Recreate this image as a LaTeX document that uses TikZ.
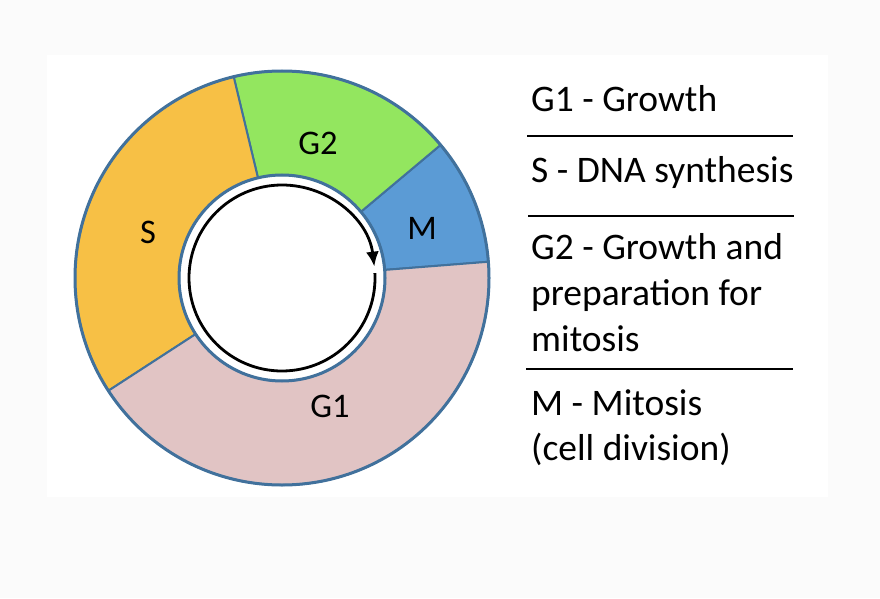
\documentclass[tikz,border=0pt]{standalone}
\usepackage{fontspec}
\setmainfont{Carlito}
\usetikzlibrary{arrows.meta}
\definecolor{ringblue}{HTML}{41719C}
\definecolor{phaseG1}{HTML}{E1C4C4}
\definecolor{phaseS}{HTML}{F7C045}
\definecolor{phaseG2}{HTML}{93E65F}
\definecolor{phaseM}{HTML}{5B9BD5}
\definecolor{pagegray}{HTML}{FBFBFB}
\tikzset{phase/.style = {draw=ringblue, line width=2pt, line join=round}}
\tikzset{ringlabel/.style = {font=\fontsize{34.5}{40}\selectfont, inner sep=0pt}}
\tikzset{keytext/.style = {font=\fontsize{37.5}{45}\selectfont, anchor=base west, inner sep=0pt}}
\tikzset{keyrule/.style = {line width=1.6pt}}

\begin{document}
\begin{tikzpicture}[x=1pt, y=1pt]
      \fill [pagegray] (0, 0) rectangle (880, 598);
      \fill [white] (47, 101) rectangle (828, 543);
      \useasboundingbox (0, 0) rectangle (880, 598);

      \begin{scope}[shift={(282, 320)}]
        \filldraw [phase, fill=phaseM] (4.5:103) -- (4.5:207) arc [start angle=4.5, end angle=40, radius=207]
          -- (40:103) arc [start angle=40, end angle=4.5, radius=103] -- cycle;
        \filldraw [phase, fill=phaseG2] (40:103) -- (40:207) arc [start angle=40, end angle=103.5, radius=207]
          -- (103.5:103) arc [start angle=103.5, end angle=40, radius=103] -- cycle;
        \filldraw [phase, fill=phaseS] (103.5:103) -- (103.5:207) arc [start angle=103.5, end angle=213, radius=207]
          -- (213:103) arc [start angle=213, end angle=103.5, radius=103] -- cycle;
        \filldraw [phase, fill=phaseG1] (213:103) -- (213:207) arc [start angle=213, end angle=364.5, radius=207]
          -- (364.5:103) arc [start angle=364.5, end angle=213, radius=103] -- cycle;
        \draw [ringblue, line width=3pt] (0, 0) circle [radius=207];
        \draw [ringblue, line width=3pt] (0, 0) circle [radius=103];

        \coordinate (cyclestart) at (3:93);
        \draw [line width=2.8pt, -{Latex[length=15pt, width=13pt]}] (cyclestart)
          arc [start angle=3, end angle=-353, radius=93];

        \node [ringlabel] (labM) at (140, 50) {M};
        \node [ringlabel] (labG2) at (36, 135) {G2};
        \node [ringlabel] (labS) at (-134, 46) {S};
        \node [ringlabel] (labG1) at (48, -128) {G1};
      \end{scope}

      \node [keytext] (keyG1) at (531, 486) {G1 - Growth};
      \node [keytext] (keyS) at (531, 415) {S - DNA synthesis};
      \node [keytext] (keyG2a) at (531, 339) {G2 - Growth and};
      \node [keytext] (keyG2b) at (531, 293) {preparation for};
      \node [keytext] (keyG2c) at (531, 247) {mitosis};
      \node [keytext] (keyMa) at (531, 183) {M - Mitosis};
      \node [keytext] (keyMb) at (531, 138) {(cell division)};

      \draw [keyrule] (527, 462) -- (793, 462);
      \draw [keyrule] (528, 382) -- (794, 382);
      \draw [keyrule] (526, 229) -- (793, 229);
    \end{tikzpicture}
\end{document}
